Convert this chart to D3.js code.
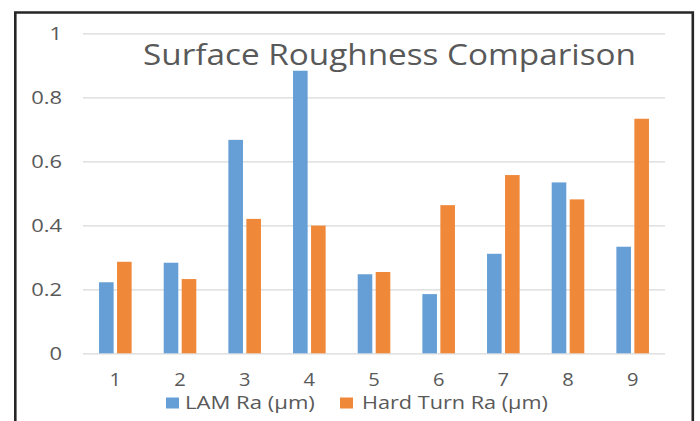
<!DOCTYPE html>
<html>
<head>
<meta charset="utf-8">
<script src="https://cdn.jsdelivr.net/npm/d3@7"></script>
<style>
  html, body { margin: 0; padding: 0; background: #fff; }
  svg { display: block; }
  text { font-family: "Open Sans", "Noto Sans", sans-serif; fill: #595959; }
</style>
</head>
<body>
<svg id="chart" width="700" height="421"></svg>
<script>
const categories = ["1", "2", "3", "4", "5", "6", "7", "8", "9"];
const lamRa = [0.222, 0.283, 0.667, 0.883, 0.247, 0.185, 0.311, 0.534, 0.333];
const hardTurnRa = [0.286, 0.232, 0.420, 0.399, 0.254, 0.463, 0.557, 0.481, 0.733];
const seriesNames = ["LAM Ra (µm)", "Hard Turn Ra (µm)"];
const seriesColors = ["#659fd6", "#f0883a"];
const yTicks = [0, 0.2, 0.4, 0.6, 0.8, 1];
const yTickLabels = ["0", "0.2", "0.4", "0.6", "0.8", "1"];
const titleText = "Surface Roughness Comparison";

const svg = d3.select("#chart");

// horizontal stretch of a text about an anchor x
function stretchX(sel, s, ax) {
  sel.attr("transform", `translate(${ax},0) scale(${s},1) translate(${-ax},0)`);
}

// frame
svg.append("path")
  .attr("d", "M15.3,421 L15.3,12.5 L692.8,12.5 L692.8,421")
  .attr("fill", "none").attr("stroke", "#262626").attr("stroke-width", 2.6);

const plotL = 83, plotR = 665, plotT = 33.3, plotB = 353.3;

const x = d3.scaleBand().domain(categories).range([plotL, plotR]).padding(0);
const y = d3.scaleLinear().domain([0, 1]).range([plotB, plotT]);

// gridlines + y labels
const yAxis = d3.axisLeft(y).tickValues(yTicks).tickSize(-(plotR - plotL))
  .tickFormat((d, i) => yTickLabels[i]).tickPadding(21);
const gy = svg.append("g").attr("transform", `translate(${plotL},0)`).call(yAxis);
gy.select(".domain").remove();
gy.selectAll(".tick line").attr("stroke", "#d9d9d9").attr("stroke-width", 1.2);
gy.selectAll(".tick text").attr("font-size", 18).attr("fill", "#595959")
  .style("font-family", "'Open Sans', sans-serif")
  .each(function () { stretchX(d3.select(this), 1.22, -21); });

// bars
const barW = 14.6, gap = 3.4;
const data = [lamRa, hardTurnRa];
data.forEach((vals, si) => {
  svg.append("g").selectAll("rect").data(vals).join("rect")
    .attr("x", (d, i) => x(categories[i]) + x.bandwidth() / 2 + (si === 0 ? -gap / 2 - barW : gap / 2))
    .attr("y", d => y(d))
    .attr("width", barW)
    .attr("height", d => y(0) - y(d))
    .attr("fill", seriesColors[si]);
});

// x axis labels
const xAxis = d3.axisBottom(x).tickSize(0).tickPadding(20.5);
const gx = svg.append("g").attr("transform", `translate(0,${plotB})`).call(xAxis);
gx.select(".domain").remove();
gx.selectAll(".tick text").attr("font-size", 17.5).attr("fill", "#595959")
  .style("font-family", "'Open Sans', sans-serif")
  .each(function () { stretchX(d3.select(this), 1.15, 0); });

// title
const tx = 389.5;
const title = svg.append("text").attr("x", tx).attr("y", 65.5)
  .attr("text-anchor", "middle").attr("font-size", 29).attr("fill", "#595959")
  .text(titleText);
stretchX(title, 493 / title.node().getComputedTextLength(), tx);

// legend
const legendItems = [
  { sx: 166, tx: 185, tw: 130 },
  { sx: 340, tx: 362, tw: 186 }
];
legendItems.forEach((it, i) => {
  svg.append("rect").attr("x", it.sx).attr("y", 397.5).attr("width", 13).attr("height", 11)
    .attr("fill", seriesColors[i]);
  const t = svg.append("text").attr("x", it.tx).attr("y", 409.5)
    .attr("font-size", 17.5).attr("fill", "#595959").text(seriesNames[i]);
  stretchX(t, it.tw / t.node().getComputedTextLength(), it.tx);
});
</script>
</body>
</html>
